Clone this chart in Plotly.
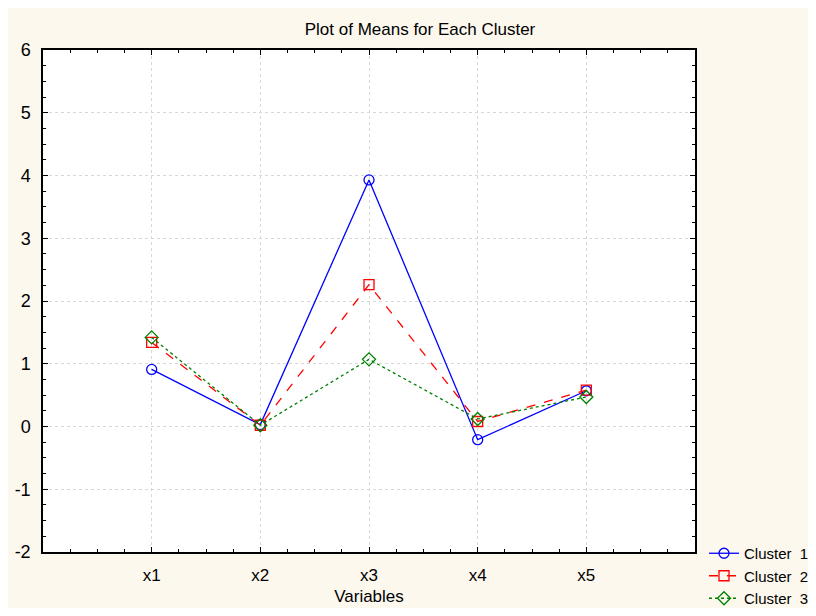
import plotly.graph_objects as go

variables = ["x1", "x2", "x3", "x4", "x5"]
cluster1 = [0.91, 0.03, 3.93, -0.21, 0.57]
cluster2 = [1.34, 0.02, 2.26, 0.08, 0.58]
cluster3 = [1.42, 0.02, 1.07, 0.12, 0.47]
series_names = ["Cluster  1", "Cluster  2", "Cluster  3"]
y_ticks = [-2, -1, 0, 1, 2, 3, 4, 5, 6]
y_ticktext = ["-2", "-1", "0", "1", "2", "3", "4", "5", "6"]

xpos = list(range(1, len(variables) + 1))

fig = go.Figure()
styles = [
    dict(color="#0000FF", dash="solid", symbol="circle-open"),
    dict(color="#FF0000", dash="dash", symbol="square-open"),
    dict(color="#008000", dash="dot", symbol="diamond-open"),
]
for name, vals, st in zip(series_names, [cluster1, cluster2, cluster3], styles):
    fig.add_trace(go.Scatter(
        x=xpos, y=vals, name=name.replace(" ", "\u00a0"),
        mode="lines+markers",
        line=dict(color=st["color"], width=1.3, dash=st["dash"]),
        marker=dict(symbol=st["symbol"], size=10, color=st["color"],
                    line=dict(width=1.3, color=st["color"])),
    ))

W, H = 808, 600
cream = "#FCF8EE"
fig.update_layout(
    width=W, height=H,
    paper_bgcolor=cream, plot_bgcolor="white",
    margin=dict(l=35, r=121, t=42, b=56, autoexpand=False),
    font=dict(family="Liberation Sans, Arial, sans-serif", size=17, color="black"),
    title=dict(text="Plot of Means for Each Cluster", x=412 / W, xanchor="center",
               y=1 - 21 / H, yanchor="middle", font=dict(size=17)),
    showlegend=True,
    legend=dict(xref="container", yref="container", x=696 / W, y=1 - 529 / H,
                xanchor="left", yanchor="top",
                bgcolor="rgba(0,0,0,0)", font=dict(size=15),
                itemwidth=30, tracegroupgap=0),
    xaxis=dict(range=[0, 6], tickvals=xpos, ticktext=variables,
               showline=True, linecolor="black", linewidth=1.5, mirror="allticks",
               ticks="inside", ticklen=5, tickcolor="black", ticklabelstandoff=7,
               minor=dict(dtick=0.25, ticks="inside", ticklen=3, tickcolor="black", showgrid=False),
               showgrid=True, gridcolor="#D8D8D8", griddash="dot", gridwidth=1,
               zeroline=False, tickfont=dict(size=17),
               title=dict(text="Variables", font=dict(size=17), standoff=6)),
    yaxis=dict(range=[-2, 6], tickvals=y_ticks, ticktext=y_ticktext,
               showline=True, linecolor="black", linewidth=1.5, mirror="allticks",
               ticks="inside", ticklen=5, tickcolor="black", ticklabelstandoff=7,
               minor=dict(dtick=0.25, ticks="inside", ticklen=3, tickcolor="black", showgrid=False),
               showgrid=True, gridcolor="#D8D8D8", griddash="dot", gridwidth=1,
               zeroline=False, tickfont=dict(size=18)),
)

fig.write_html("out.html")
